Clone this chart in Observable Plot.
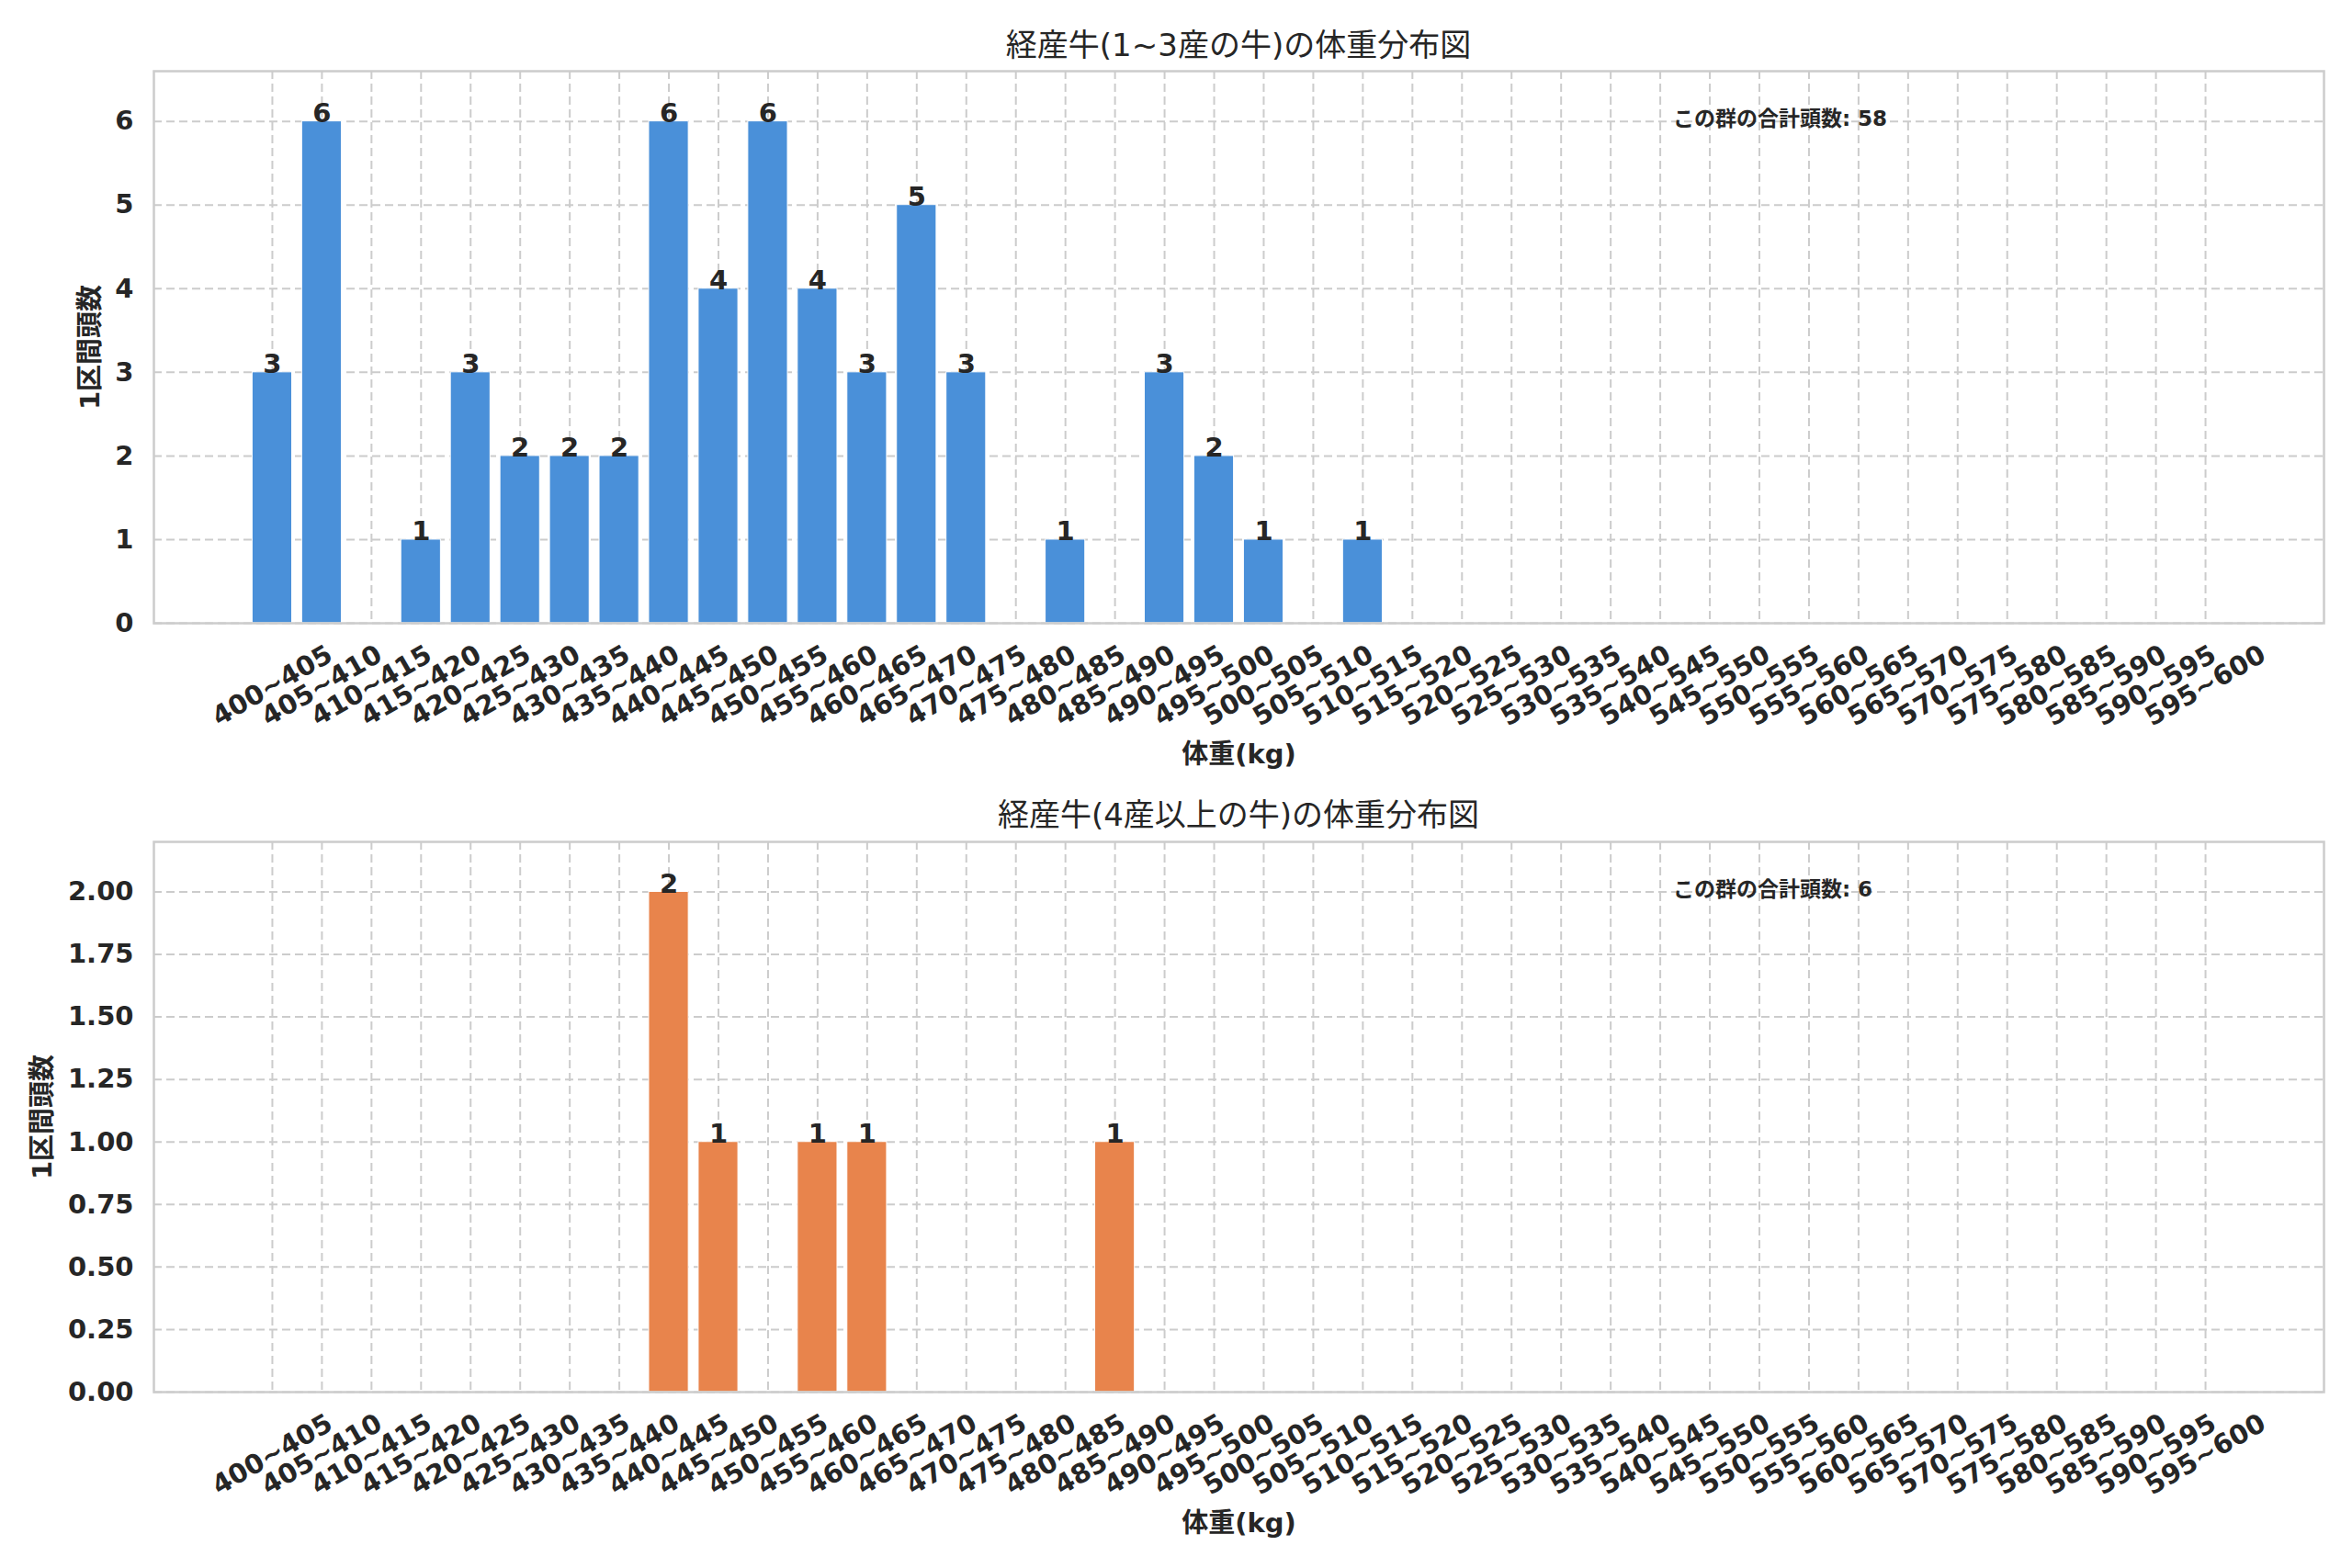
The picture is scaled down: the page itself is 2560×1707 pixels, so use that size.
<!DOCTYPE html>
<html><head><meta charset="utf-8">
<script src="https://cdn.jsdelivr.net/npm/d3@7"></script>
<script src="https://cdn.jsdelivr.net/npm/@observablehq/plot@0.6"></script>
<style>
body{margin:0;background:#fff;}
#wrap{position:relative;width:2560px;height:1707px;font-family:"DejaVu Sans","Noto Sans CJK JP",sans-serif;color:#262626;background:#fff;}
.title{position:absolute;left:167px;width:2362px;text-align:center;font-size:34px;line-height:40px;z-index:2;}
.chart{position:absolute;left:0;z-index:1;}
</style></head><body>
<div id="wrap">
  <div id="c1" class="chart" style="top:0px"></div>
  <div id="c2" class="chart" style="top:850px"></div>
  <div class="title" id="t1" style="top:29px"></div>
  <div class="title" id="t2" style="top:867px"></div>
</div>
<script>
const bins = ["400~405","405~410","410~415","415~420","420~425","425~430","430~435","435~440",
  "440~445","445~450","450~455","455~460","460~465","465~470","470~475","475~480",
  "480~485","485~490","490~495","495~500","500~505","505~510","510~515","515~520",
  "520~525","525~530","530~535","535~540","540~545","545~550","550~555","555~560",
  "560~565","565~570","570~575","575~580","580~585","585~590","590~595","595~600"];
const countsA = [3,6,0,1,3,2,2,2,6,4,6,4,3,5,3,0,1,0,3,2,1,0,1,0,0,0,0,0,0,0,0,0,0,0,0,0,0,0,0,0];
const countsB = [0,0,0,0,0,0,0,0,2,1,0,1,1,0,0,0,0,1,0,0,0,0,0,0,0,0,0,0,0,0,0,0,0,0,0,0,0,0,0,0];
const titleA = "経産牛(1~3産の牛)の体重分布図";
const titleB = "経産牛(4産以上の牛)の体重分布図";
const xLabel = "体重(kg)";
const yLabel = "1区間頭数";
const notePrefix = "この群の合計頭数: ";
const ticksA = [0,1,2,3,4,5,6];
const ticksB = [0,0.25,0.5,0.75,1,1.25,1.5,1.75,2];

document.getElementById("t1").textContent = titleA;
document.getElementById("t2").textContent = titleB;

const W = 2560, ML = 167, MR = 31;
const frameW = W - ML - MR;
const xlo = -0.4 - 0.05 * (bins.length - 1 + 0.8);
const xhi = bins.length - 1 + 0.4 + 0.05 * (bins.length - 1 + 0.8);
const FONT = '"DejaVu Sans","Noto Sans CJK JP",sans-serif';

function makeChart(counts, color, yTicks, yFmt, height, mTop, mBottom, yLabDx) {
  const rows = counts.map((c, i) => ({i, count: c})).filter(d => d.count > 0);
  const yMax = d3.max(counts) * 1.1;
  const grid = {stroke: "#cccccc", strokeOpacity: 1, strokeWidth: 2, strokeDasharray: "9,5"};
  return Plot.plot({
    width: W, height, marginLeft: ML, marginRight: MR, marginTop: mTop, marginBottom: mBottom,
    x: {domain: [xlo, xhi], label: null},
    y: {domain: [0, yMax], label: null},
    style: {fontFamily: FONT, fontSize: "29px", color: "#262626", background: "transparent", overflow: "visible"},
    marks: [
      Plot.gridX(d3.range(bins.length), grid),
      Plot.gridY(yTicks, grid),
      Plot.rectY(rows, {x1: d => d.i - 0.4, x2: d => d.i + 0.4, y: "count", fill: color, stroke: "white", strokeWidth: 1}),
      Plot.text(rows, {x: "i", y: "count", text: d => String(d.count), lineAnchor: "bottom", dy: 1, fontWeight: "bold", fontSize: 29}),
      Plot.frame({stroke: "#cccccc", strokeWidth: 2.5}),
      Plot.axisX(d3.range(bins.length), {tickFormat: i => bins[i], tickSize: 0, tickPadding: 0, tickRotate: -30,
        textAnchor: "middle", lineAnchor: "middle", dy: 68, fontWeight: "bold", fontSize: 29, label: null}),
      Plot.axisY(yTicks, {tickFormat: yFmt, tickSize: 0, tickPadding: 22, fontWeight: "bold", fontSize: 29, label: null}),
      Plot.text([xLabel], {frameAnchor: "bottom", dy: 143, text: d => d, textAnchor: "middle", lineAnchor: "middle", fontWeight: "bold", fontSize: 29}),
      Plot.text([yLabel], {frameAnchor: "left", dx: yLabDx, rotate: -90, text: d => d, textAnchor: "middle", lineAnchor: "middle", fontWeight: "bold", fontSize: 29}),
      Plot.text([notePrefix + d3.sum(counts)], {frameAnchor: "top-left", dx: 0.7 * frameW, dy: 52, text: d => d,
        textAnchor: "start", lineAnchor: "middle", fontWeight: "bold", fontSize: 23})
    ]
  });
}

document.getElementById("c1").append(makeChart(countsA, "#4A90D9", ticksA, d3.format("d"), 850, 77, 172, -69));
document.getElementById("c2").append(makeChart(countsB, "#E8844C", ticksB, d3.format(".2f"), 857, 66, 192, -121));
</script>
</body></html>
